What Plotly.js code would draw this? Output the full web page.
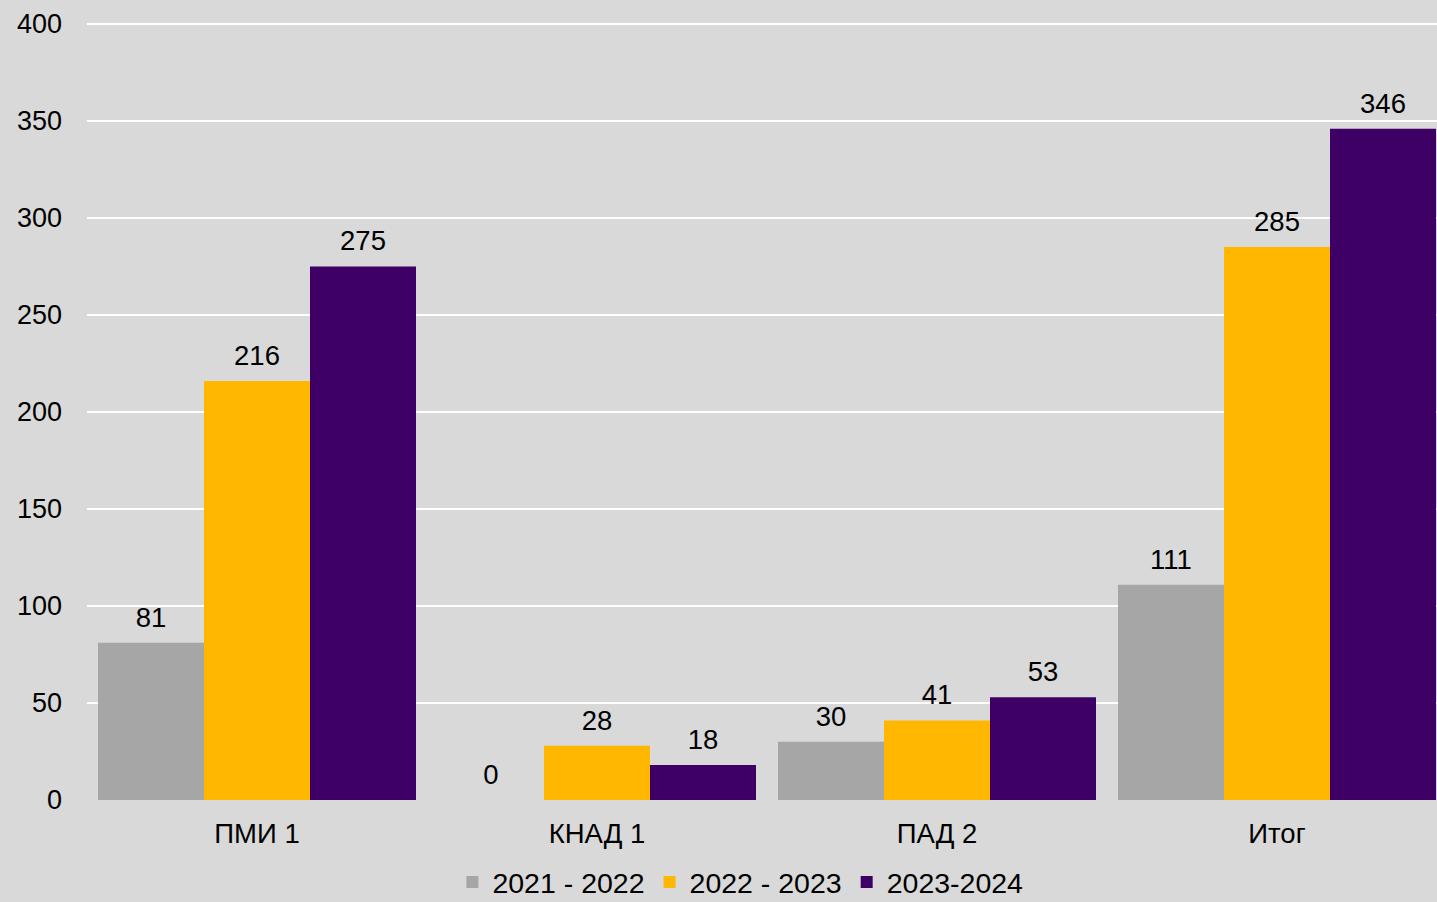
<!DOCTYPE html>
<html>
<head>
<meta charset="utf-8">
<script src="https://cdn.plot.ly/plotly-3.0.1.min.js"></script>
<style>html,body{margin:0;padding:0;background:#d9d9d9;}#chart{width:1437px;height:902px;}</style>
</head>
<body>
<div id="chart"></div>
<script>
const categories = ["ПМИ 1", "КНАД 1", "ПАД 2", "Итог"];
const seriesNames = ["2021 - 2022", "2022 - 2023", "2023-2024"];
const values2021 = [81, 0, 30, 111];
const values2022 = [216, 28, 41, 285];
const values2023 = [275, 18, 53, 346];
const yTicks = [0, 50, 100, 150, 200, 250, 300, 350, 400];

const colors = ["#a6a6a6", "#ffb700", "#3f0066"];
const allValues = [values2021, values2022, values2023];
const FONT = "Liberation Sans, Arial, sans-serif";
const GAP = 22 / 340;

const bars = allValues.map((vals, i) => ({
  type: "bar",
  name: seriesNames[i],
  x: categories,
  y: vals,
  marker: {color: colors[i], line: {width: 0}},
  hoverinfo: "x+y+name"
}));

const labels = allValues.map((vals, i) => ({
  type: "scatter",
  mode: "markers+text",
  x: categories,
  y: vals,
  text: vals.map(String),
  textposition: "top center",
  textfont: {family: FONT, size: 27.5, color: "#000"},
  marker: {size: 13, opacity: 0, color: colors[i]},
  cliponaxis: false,
  showlegend: false,
  hoverinfo: "skip"
}));

const plotLeft = 87, plotRight = 1437, catWidth = 340;
const layout = {
  width: 1437, height: 902,
  paper_bgcolor: "#d9d9d9",
  plot_bgcolor: "#d9d9d9",
  margin: {l: plotLeft, r: 0, t: 19.6, b: 102, pad: 0, autoexpand: false},
  font: {family: FONT, size: 27.5, color: "#000"},
  barmode: "group",
  bargap: GAP,
  bargroupgap: 0,
  scattermode: "group",
  scattergap: GAP,
  showlegend: true,
  legend: {
    orientation: "h",
    x: 0.484, xanchor: "center",
    yref: "container",
    y: 0.05, yanchor: "top",
    font: {family: FONT, size: 28.5, color: "#000"},
    itemwidth: 30,
    bgcolor: "rgba(0,0,0,0)"
  },
  xaxis: {
    type: "category",
    range: [-0.5, -0.5 + (plotRight - plotLeft) / catWidth],
    showgrid: false, zeroline: false, showline: false,
    ticks: "", ticklabelstandoff: 14,
    tickfont: {family: FONT, size: 27.5, color: "#000"},
    fixedrange: true
  },
  yaxis: {
    range: [0, 402],
    tickvals: yTicks,
    ticktext: yTicks.map(String),
    showgrid: true, gridcolor: "#ffffff", gridwidth: 2,
    zeroline: true, zerolinecolor: "#d9d9d9", zerolinewidth: 2,
    showline: false, ticks: "", ticklabelstandoff: 24,
    tickfont: {family: FONT, size: 27, color: "#000"},
    fixedrange: true
  }
};

Plotly.newPlot("chart", bars.concat(labels), layout, {displayModeBar: false, staticPlot: true});
</script>
</body>
</html>
